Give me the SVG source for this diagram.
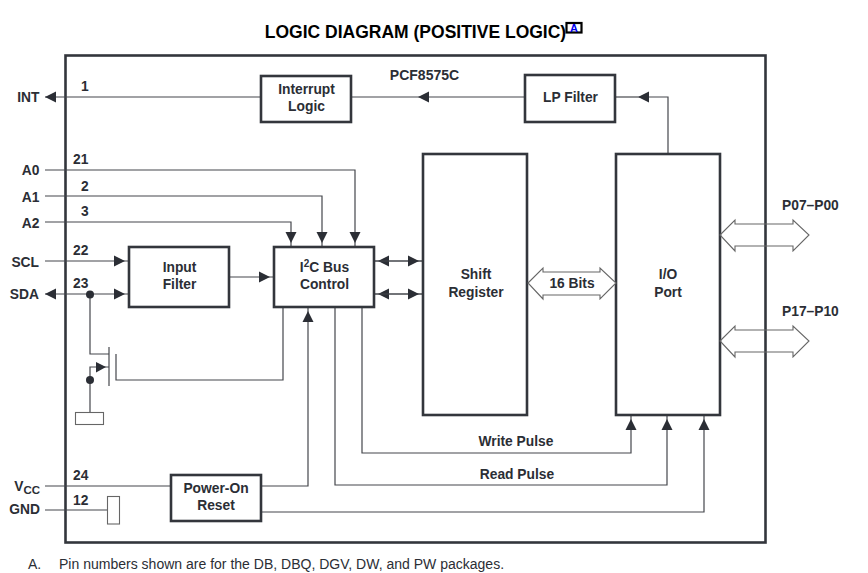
<svg xmlns="http://www.w3.org/2000/svg" width="868" height="573" viewBox="0 0 868 573">
<style>
text{font-family:"Liberation Sans",Arial,sans-serif;fill:#2b2e35}
.l{font-size:13.800px;font-weight:bold}
.c{text-anchor:middle}
.r{text-anchor:end}
.b{fill:#fff;stroke:#33363c;stroke-width:2.600}
.w{fill:none;stroke:#45474c;stroke-width:1.200}
.a{marker-end:url(#ah)}
.t{marker-end:url(#tip)}
.bus{fill:#fff;stroke:#666;stroke-width:1.100}
.busn{fill:none;stroke:#666;stroke-width:1.100}
.d{fill:#2b2e35}
</style>
<defs>
<marker id="ah" markerUnits="userSpaceOnUse" markerWidth="18" markerHeight="14" refX="15" refY="7" orient="auto"><path d="M0 1.500L11 7L0 12.500Z" fill="#2b2e35"/></marker>
<marker id="tip" markerUnits="userSpaceOnUse" markerWidth="14" markerHeight="14" refX="11" refY="7" orient="auto"><path d="M0 1.500L11 7L0 12.500Z" fill="#2b2e35"/></marker>
</defs>
<rect width="868" height="573" fill="#fff"/>
<text x="415.500" y="38" class="c" style="font-size:17.500px;font-weight:bold;fill:#000">LOGIC DIAGRAM (POSITIVE LOGIC)</text>
<g id="noteref"><rect x="566.500" y="23" width="15" height="9.500" fill="#fff" stroke="#000" stroke-width="2.200"/><text x="574" y="32" class="c" style="font-size:11px;font-weight:bold;fill:#0000ee">A</text></g>
<rect id="package" x="65.500" y="55.500" width="700" height="487" fill="none" stroke="#33363c" stroke-width="2.600"/>
<text x="424.500" y="80" class="c" style="font-size:14px;font-weight:bold">PCF8575C</text>

<g id="connectors">
<path class="w t" d="M261 97H45"/>
<path class="w t" d="M525 97H418"/>
<path class="w" d="M418 97H351"/>
<path class="w t" d="M668 154V97H638"/>
<path class="w" d="M638 97H615"/>
<path class="w a" d="M45 170H355V247"/>
<path class="w a" d="M45 196H322V247"/>
<path class="w a" d="M45 222H291V247"/>
<path class="w a" d="M45 261H129"/>
<path class="w a" d="M90 294H129"/>
<path class="w t" d="M90 294H45"/>
<path class="w a" d="M229 277H274"/>
<path class="w a" d="M423 261H374"/>
<path class="w a" d="M374 261H423"/>
<path class="w a" d="M423 294H374"/>
<path class="w a" d="M374 294H423"/>
<path class="w" d="M90 294V354H109"/>
<path class="w" d="M109 347V386"/>
<path class="w" d="M116 354V380H283V307"/>
<path class="w" d="M109 367H90V412"/>
<path class="d" d="M96 362L106 367L96 372.500Z"/>
<path class="w" d="M45 486H171"/>
<path class="w a" d="M261 486H308V307"/>
<path class="w a" d="M362 307V453H631V415"/>
<path class="w a" d="M335 307V485H667V415"/>
<path class="w a" d="M261 512H704V415"/>
<path class="w" d="M45 510H108"/>
<circle class="d" cx="90" cy="294.500" r="4"/>
<circle class="d" cx="90" cy="380" r="4"/>
</g>

<rect x="75.500" y="412.500" width="28" height="12" fill="#fff" stroke="#666" stroke-width="1.100"/>
<rect x="107.500" y="496.500" width="12" height="27.500" fill="#fff" stroke="#666" stroke-width="1.100"/>

<g id="pins">
<text x="39.500" y="102" class="l r">INT</text>
<text x="39.500" y="175" class="l r">A0</text>
<text x="39.500" y="202" class="l r">A1</text>
<text x="39.500" y="228" class="l r">A2</text>
<text x="39" y="267" class="l r">SCL</text>
<text x="39" y="299" class="l r">SDA</text>
<text x="40" y="491" class="l r">V<tspan dy="3" font-size="11.500">CC</tspan></text>
<text x="40" y="514" class="l r">GND</text>
<text x="81" y="91" class="l">1</text>
<text x="73" y="164" class="l">21</text>
<text x="81" y="191" class="l">2</text>
<text x="81" y="216" class="l">3</text>
<text x="73" y="255" class="l">22</text>
<text x="73" y="288" class="l">23</text>
<text x="73" y="480" class="l">24</text>
<text x="73" y="505" class="l">12</text>
</g>

<g id="interrupt-logic"><rect class="b" x="261" y="76" width="90" height="46"/><text x="306.500" y="94" class="l c">Interrupt</text><text x="306.500" y="111" class="l c">Logic</text></g>
<g id="lp-filter"><rect class="b" x="525" y="75" width="90" height="47"/><text x="570.500" y="102" class="l c">LP Filter</text></g>
<g id="input-filter"><rect class="b" x="129" y="247" width="100" height="60"/><text x="179.500" y="272" class="l c">Input</text><text x="179.500" y="289" class="l c">Filter</text></g>
<g id="i2c-control"><rect class="b" x="274" y="247" width="100" height="60"/><text x="324.500" y="272" class="l c">I<tspan dy="-5" font-size="10">2</tspan><tspan dy="5">C Bus</tspan></text><text x="324.500" y="289" class="l c">Control</text></g>
<g id="shift-register"><rect class="b" x="423" y="154" width="104" height="261"/><text x="476" y="279" class="l c">Shift</text><text x="476" y="297" class="l c">Register</text></g>
<g id="io-port"><rect class="b" x="616" y="154" width="104" height="261"/><text x="668" y="279" class="l c">I/O</text><text x="668" y="297" class="l c">Port</text></g>
<g id="power-on-reset"><rect class="b" x="171" y="475" width="90" height="46"/><text x="216" y="493" class="l c">Power-On</text><text x="216" y="510" class="l c">Reset</text></g>

<g id="buses">
<path class="bus" d="M528 283L543 268V272H600V268L616 283L600 299V295H543V299Z"/>
<path class="busn" d="M720 235L735 220V224H793V220L809 235L793 251V246H735V251Z"/>
<path class="busn" d="M720 341L735 326V330H793V326L809 341L793 357V352H735V357Z"/>
</g>
<text x="572" y="288" class="l c">16 Bits</text>
<text x="782" y="210" class="l">P07–P00</text>
<text x="782" y="316" class="l">P17–P10</text>
<text x="516" y="446" class="l c">Write Pulse</text>
<text x="517" y="479" class="l c">Read Pulse</text>
<text x="28" y="569" style="font-size:14px">A.</text>
<text x="59" y="569" style="font-size:14.030px">Pin numbers shown are for the DB, DBQ, DGV, DW, and PW packages.</text>
</svg>
